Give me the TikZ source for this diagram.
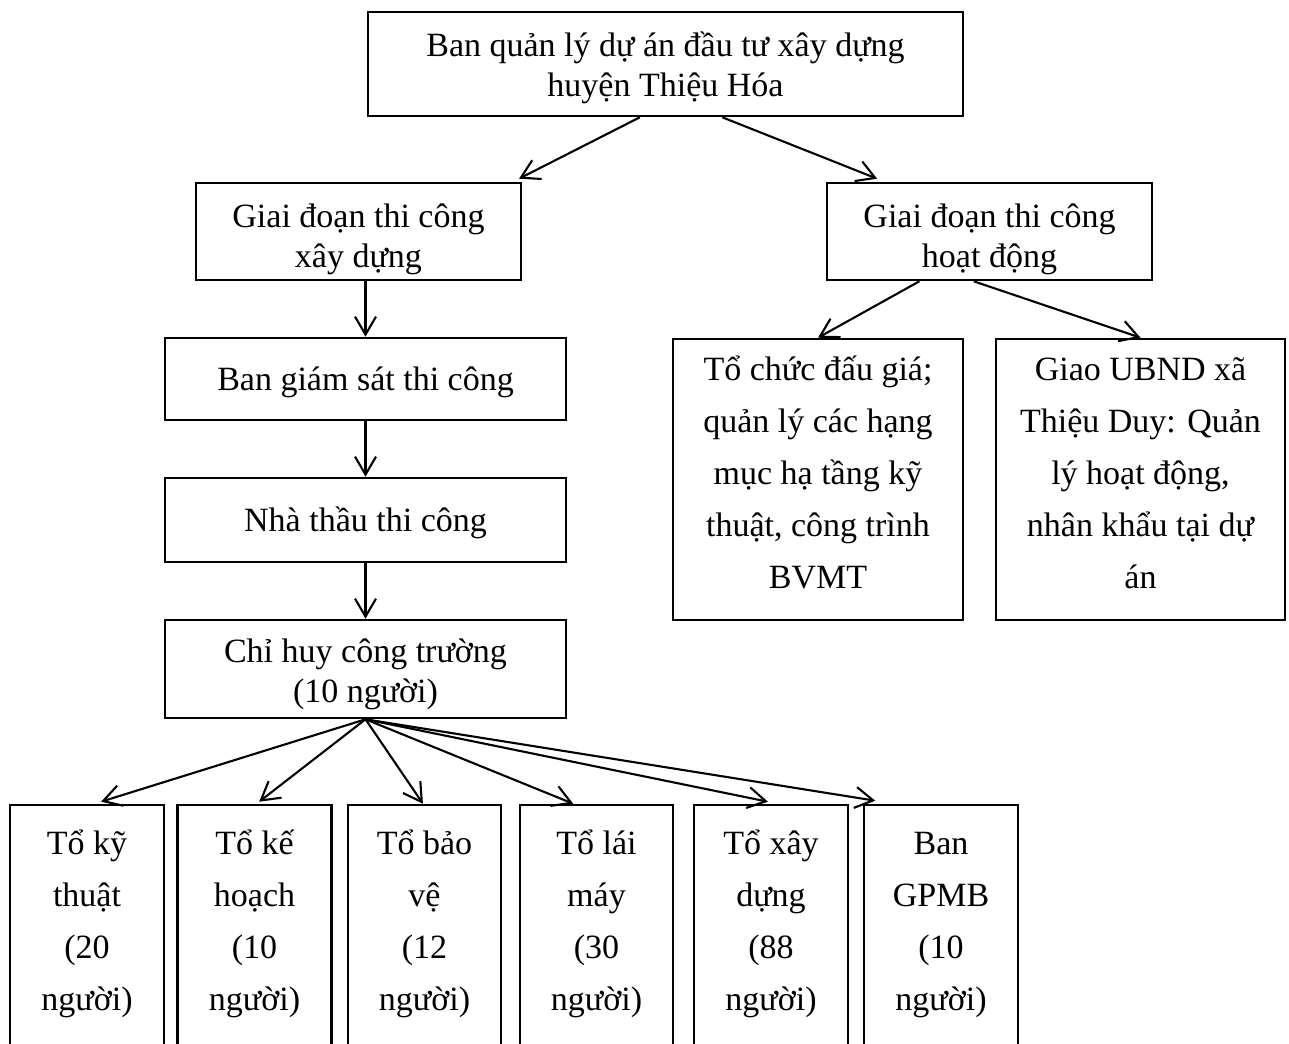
\documentclass[tikz,border=0pt]{standalone}
\usepackage{fontspec}
\setmainfont{Liberation Serif}
\usetikzlibrary{arrows.meta,calc}
\begin{document}
\begin{tikzpicture}[x=1pt,y=-1pt,
  box/.style={draw,line width=2.6pt,inner sep=0pt,align=center,text depth=5pt,font=\fontsize{34}{40}\selectfont},
  tall/.style={box,font=\fontsize{34}{52}\selectfont},
  arr/.style={line width=2.1pt,-{Straight Barb[length=18pt,width=21pt,line width=2.1pt]}}]
\clip (0,0) rectangle (1289,1043);
\fill[white] (0,0) rectangle (1289,1043);

\node[box,text height=71pt,minimum width=595pt,minimum height=104pt] (top) at (665.5,64) {Ban quản lý dự án đầu tư xây dựng\\huyện Thiệu Hóa};
\node[box,text height=76pt,minimum width=325pt,minimum height=97pt] (gl) at (358.5,231.5) {Giai đoạn thi công\\xây dựng};
\node[box,text height=76pt,minimum width=325pt,minimum height=97pt] (gr) at (989.5,231.5) {Giai đoạn thi công\\hoạt động};
\node[box,text height=27pt,minimum width=401pt,minimum height=82pt] (bgs) at (365.5,379) {Ban giám sát thi công};
\node[box,text height=27pt,minimum width=401pt,minimum height=84pt] (ntc) at (365.5,520) {Nhà thầu thi công};
\node[box,text height=71pt,minimum width=401pt,minimum height=98pt] (chc) at (365.5,669) {Chỉ huy công trường\\(10 người)};
\node[tall,text height=222pt,minimum width=290pt,minimum height=281pt] (r1) at (818,479.5) {Tổ chức đấu giá;\\quản lý các hạng\\mục hạ tầng kỹ\\thuật, công trình\\BVMT};
\node[tall,text height=222pt,minimum width=289pt,minimum height=281pt] (r2) at (1140.5,479.5) {Giao UBND xã\\Thiệu Duy: Quản\\lý hoạt động,\\nhân khẩu tại dự\\án};

\node[tall,text height=175pt,minimum width=154pt,minimum height=240pt] (b1) at (87,925) {Tổ kỹ\\thuật\\(20\\người)};
\node[tall,text height=175pt,minimum width=154pt,minimum height=240pt] (b2) at (254.5,925) {Tổ kế\\hoạch\\(10\\người)};
\node[tall,text height=175pt,minimum width=153pt,minimum height=240pt] (b3) at (424.5,925) {Tổ bảo\\vệ\\(12\\người)};
\node[tall,text height=175pt,minimum width=153pt,minimum height=240pt] (b4) at (596.5,925) {Tổ lái\\máy\\(30\\người)};
\node[tall,text height=175pt,minimum width=154pt,minimum height=240pt] (b5) at (771,925) {Tổ xây\\dựng\\(88\\người)};
\node[tall,text height=175pt,minimum width=154pt,minimum height=240pt] (b6) at (941,925) {Ban\\GPMB\\(10\\người)};

\draw[arr] ($(top.south west)!0.457!(top.south east)$) -- ($(gl.north west)!0.99!(gl.north east)+(0,-3)$);
\draw[arr] ($(top.south west)!0.595!(top.south east)$) -- ($(gr.north west)!0.157!(gr.north east)+(0,-3)$);
\draw[arr] (bgs.north |- gl.south) -- (bgs.north);
\draw[arr] (bgs.south) -- (ntc.north);
\draw[arr] (ntc.south) -- (chc.north);
\draw[arr] ($(gr.south west)!0.286!(gr.south east)$) -- (r1.north);
\draw[arr] ($(gr.south west)!0.452!(gr.south east)$) -- (r2.north);

\draw[arr] (chc.south) -- ($(b1.north west)!0.59!(b1.north east)+(0,-2)$);
\draw[arr] (chc.south) -- ($(b2.north west)!0.53!(b2.north east)+(0,-2)$);
\draw[arr] (chc.south) -- ($(b3.north west)!0.49!(b3.north east)$);
\draw[arr] (chc.south) -- ($(b4.north west)!0.35!(b4.north east)$);
\draw[arr] (chc.south) -- ($(b5.north west)!0.48!(b5.north east)+(0,-2)$);
\draw[arr] (chc.south) -- ($(b6.north west)!0.08!(b6.north east)+(0,-3)$);
\end{tikzpicture}
\end{document}
